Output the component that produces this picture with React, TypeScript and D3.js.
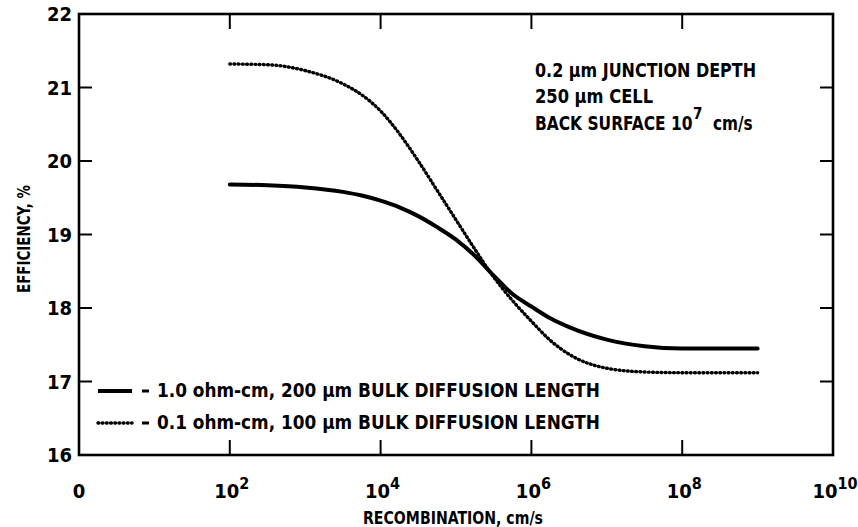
import React from "react";
import * as d3 from "d3";

// log10 of recombination velocity (cm/s)
const exponents = [2, 2.5, 3, 3.5, 3.75, 4, 4.25, 4.5, 4.75, 5, 5.25, 5.5, 5.75, 6, 6.25, 6.5, 7, 7.5, 8, 8.5, 9];
// 1.0 ohm-cm, 200 um bulk diffusion length (solid)
const effSolid = [19.68, 19.67, 19.64, 19.58, 19.53, 19.46, 19.37, 19.25, 19.1, 18.93, 18.71, 18.44, 18.19, 18.02, 17.86, 17.74, 17.57, 17.48, 17.45, 17.45, 17.45];
// 0.1 ohm-cm, 100 um bulk diffusion length (dotted)
const effDotted = [21.32, 21.31, 21.23, 21.05, 20.9, 20.68, 20.37, 20.0, 19.6, 19.2, 18.8, 18.42, 18.1, 17.82, 17.56, 17.37, 17.18, 17.13, 17.12, 17.12, 17.12];

const xTicks = [0, 2, 4, 6, 8, 10];
const yTicks = [16, 17, 18, 19, 20, 21, 22];

const FONT = "'Liberation Sans Narrow', 'DejaVu Sans Condensed', 'Liberation Sans', Arial, sans-serif";

export default function App() {
  const left = 79, right = 833, top = 14, bottom = 455;
  const x = d3.scaleLinear().domain([0, 10]).range([left, right]);
  const y = d3.scaleLinear().domain([16, 22]).range([bottom, top]);
  const line = d3
    .line<number>()
    .x((_, i) => x(exponents[i]))
    .y((d) => y(d))
    .curve(d3.curveMonotoneX);

  const tickX = 15;
  const tickY = 13;

  return (
    <svg
      width={858}
      height={527}
      style={{ position: "absolute", left: 0, top: 0, background: "#fff" }}
      fontFamily={FONT}
      fontWeight="bold"
    >
      <rect x={0} y={0} width={858} height={527} fill="#fff" />
      {/* frame */}
      <rect x={left} y={top} width={right - left} height={bottom - top} fill="none" stroke="#000" strokeWidth={2.6} />
      {/* x ticks bottom & top (inward) */}
      {xTicks.slice(1, -1).map((t) => (
        <g key={"xt" + t}>
          <line x1={x(t)} x2={x(t)} y1={bottom} y2={bottom - tickX} stroke="#000" strokeWidth={2} />
          <line x1={x(t)} x2={x(t)} y1={top} y2={top + tickX} stroke="#000" strokeWidth={2} />
        </g>
      ))}
      {/* y ticks left & right (inward) */}
      {yTicks.slice(1, -1).map((t) => (
        <g key={"yt" + t}>
          <line x1={left} x2={left + tickY} y1={y(t)} y2={y(t)} stroke="#000" strokeWidth={2} />
          <line x1={right} x2={right - tickY} y1={y(t)} y2={y(t)} stroke="#000" strokeWidth={2} />
        </g>
      ))}
      {/* y tick labels */}
      {yTicks.map((t) => (
        <text key={"yl" + t} x={72} y={y(t) + 7} textAnchor="end" fontSize={20}>
          {t}
        </text>
      ))}
      {/* x tick labels */}
      {xTicks.map((t) =>
        t === 0 ? (
          <text key={"xl" + t} x={x(t)} y={498} textAnchor="middle" fontSize={20}>
            0
          </text>
        ) : (
          <text key={"xl" + t} x={x(t) + 2} y={498} textAnchor="middle" fontSize={20}>
            10
            <tspan dy={-9} fontSize={16}>
              {t}
            </tspan>
          </text>
        )
      )}
      {/* axis titles */}
      <text x={453} y={524} textAnchor="middle" fontSize={18} textLength={180} lengthAdjust="spacingAndGlyphs">
        RECOMBINATION, cm/s
      </text>
      <text
        transform="translate(30,239) rotate(-90)"
        textAnchor="middle"
        fontSize={18}
        textLength={108}
        lengthAdjust="spacingAndGlyphs"
      >
        EFFICIENCY, %
      </text>

      {/* curves */}
      <path d={line(effSolid) || ""} fill="none" stroke="#000" strokeWidth={4} strokeLinecap="round" />
      <path
        d={line(effDotted) || ""}
        fill="none"
        stroke="#000"
        strokeWidth={3.4}
        strokeDasharray="0.8 3.4"
        strokeLinecap="round"
      />

      {/* annotation */}
      <text x={535} y={77} fontSize={20} textLength={221} lengthAdjust="spacingAndGlyphs">
        0.2 μm JUNCTION DEPTH
      </text>
      <text x={535} y={103} fontSize={20} textLength={118} lengthAdjust="spacingAndGlyphs">
        250 μm CELL
      </text>
      <text transform="translate(535,130) scale(0.86,1)" fontSize={20}>
        BACK SURFACE 10
      </text>
      <text x={693} y={119} fontSize={15}>
        7
      </text>
      <text transform="translate(713,130) scale(0.85,1)" fontSize={20}>
        cm/s
      </text>

      {/* legend */}
      <line x1={98} x2={132} y1={391} y2={391} stroke="#000" strokeWidth={4} />
      <line x1={98} x2={132} y1={423} y2={423} stroke="#000" strokeWidth={3.4} strokeDasharray="0.8 3.4" strokeLinecap="round" />
      <line x1={142} x2={149} y1={391} y2={391} stroke="#000" strokeWidth={3} />
      <line x1={142} x2={149} y1={423} y2={423} stroke="#000" strokeWidth={3} />
      <text x={157} y={397} fontSize={20} textLength={443} lengthAdjust="spacingAndGlyphs">
        1.0 ohm-cm, 200 μm BULK DIFFUSION LENGTH
      </text>
      <text x={157} y={429} fontSize={20} textLength={443} lengthAdjust="spacingAndGlyphs">
        0.1 ohm-cm, 100 μm BULK DIFFUSION LENGTH
      </text>
    </svg>
  );
}
